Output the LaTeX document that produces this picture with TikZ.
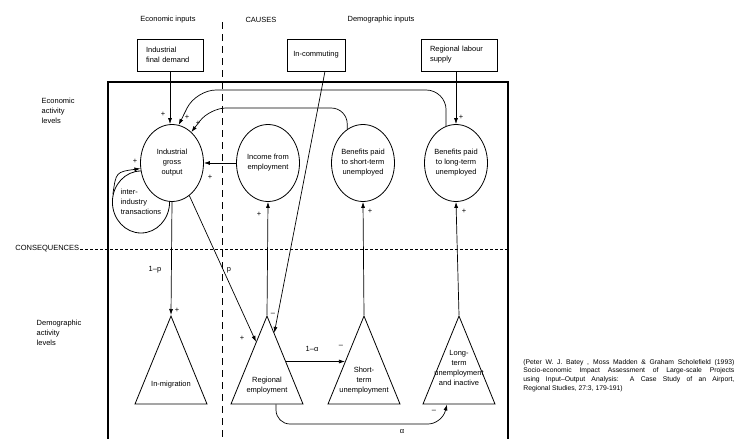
\documentclass[tikz,border=0pt]{standalone}
\usepackage{fontspec}
\setmainfont{Liberation Sans}
\usetikzlibrary{shapes.geometric,calc,arrows.meta}
\begin{document}
\begin{tikzpicture}[x=1pt,y=-1pt,>={Latex[length=6pt,width=4pt]},line width=0.7pt,
  every node/.style={font=\fontsize{7.5}{10}\selectfont},
  circ/.style={draw,ellipse,fill=white,line width=0.8pt,minimum width=63pt,minimum height=77pt,inner sep=0pt,align=center},
  tri/.style={draw,isosceles triangle,isosceles triangle stretches,shape border rotate=90,minimum width=72pt,minimum height=88pt,inner sep=0pt,line width=0.8pt,anchor=apex},
  inbox/.style={draw,line width=0.6pt,minimum height=32pt,align=left},
  sign/.style={inner sep=0pt}]
\useasboundingbox (0,0) rectangle (734,439);
% headings
\node (hecon) at (168,20) {Economic inputs};
\node (hcaus) at (261,20) {CAUSES};
\node (hdemo) at (381,20) {Demographic inputs};
\node[align=left,anchor=west] (leco) at (38,111) {Economic\\activity\\levels};
\node[align=left,anchor=west] (ldem) at (33,333) {Demographic\\activity\\levels};
\node[anchor=west,inner sep=1pt] (cons) at (14,249) {CONSEQUENCES};
\draw[line width=0.4pt,dash pattern=on 3pt off 2pt] (cons.east) -- (510,249);
\draw[dash pattern=on 7pt off 5pt] (222,22) -- (222,439);
\draw[line width=2.5pt] (108,439) -- (108,82) -- (508,82) -- (508,439);
% inputs
\node[inbox,text width=48pt,inner xsep=9pt] (ifd) at (170,55) {Industrial\\final demand};
\node[inbox,minimum width=58pt] (inc) at (316,55) {In-commuting};
\node[inbox,text width=58pt,inner xsep=9pt] (rls) at (459,55) {Regional labour\\supply};
% economic activity
\node[circ,minimum width=52pt,minimum height=62pt,align=left] (iit) at (141,202) {inter-\\industry\\transactions};
\node[circ] (igo) at (172,163) {Industrial\\gross\\output};
\node[circ] (ife) at (268,163) {Income from\\employment};
\node[circ] (bst) at (363,163) {Benefits paid\\to short-term\\unemployed};
\node[circ] (blt) at (456,163) {Benefits paid\\to long-term\\unemployed};
% demographic activity
\node[tri] (mig) at (171,315) {};
\node[tri] (rem) at (267,315) {};
\node[tri] (stu) at (364,315) {};
\node[tri] (lti) at (459,315) {};
\node (migt) at (171,385) {In-migration};
\node[align=center] (remt) at (267,386) {Regional\\employment};
\node[align=center] (stut) at (364,381) {Short-\\term\\unemployment};
\node[align=center] (ltit) at (459,368) {Long-\\term\\unemployment\\and inactive};
% links
\draw[->] (ifd.south) -- (ifd.south |- igo.north);
\draw[->,rounded corners=20pt] (blt.105) |- (196,90) -- (igo.80);
\draw[->,rounded corners=16pt] (bst.115) |- (210,108) -- (igo.58);
\draw[->] (ife.west) -- (igo.east);
\draw[->] (iit.165) .. controls (116,172) .. (igo.190);
\draw[->] ([xshift=9pt]inc.south) -- ($(rem.apex)!0.2!(rem.right corner)$);
\draw[->] (igo.-62) -- ($(rem.apex)!0.3!(rem.left corner)$);
\draw[->] (igo.south) -- (mig.apex);
\draw[->] (rem.apex) -- (ife.south);
\draw[->] ($(rem.apex)!0.52!(rem.right corner)$) -- ($(stu.apex)!0.52!(stu.left corner)$);
\draw[->] (stu.apex) -- (bst.south);
\draw[->] (lti.apex) -- (blt.south);
\draw[->,rounded corners=14pt] ([xshift=9pt]rem.lower side) |- (442,424) -- ([xshift=-12pt]lti.lower side);
\draw[->] (blt.north |- rls.south) -- (blt.north);
% signs
\node[sign] (s1) at (163,114) {+};
\node[sign] (s2) at (187,117) {+};
\node[sign] (s3) at (198,123) {+};
\node[sign] (s4) at (210,177) {+};
\node[sign] (s5) at (135,161) {+};
\node[sign] (s6) at (177,310) {+};
\node[sign] (s7) at (242,338) {+};
\node[sign] (s8) at (259,214) {+};
\node[sign] (s9) at (273,314) {–};
\node[sign] (s10) at (341,346) {–};
\node[sign] (s11) at (370,211) {+};
\node[sign] (s12) at (464,211) {+};
\node[sign] (s13) at (434,411) {–};
\node[sign] (s14) at (461,117) {+};
\node[sign] (lp1) at (155,270) {1–p};
\node[sign] (lp2) at (229,270) {p};
\node[sign] (la1) at (312,349) {1–α};
\node[sign] (la2) at (402,432) {α};
% source
\node[anchor=north west,text width=211pt,align=justify,inner sep=0pt,font=\fontsize{6.8}{8.7}\selectfont] (src) at (523,359)
  {(Peter W. J. Batey , Moss Madden \& Graham Scholefield (1993)\linebreak
  Socio-economic Impact Assessment of Large-scale Projects\linebreak
  using Input–Output Analysis: A Case Study of an Airport,\linebreak
  Regional Studies, 27:3, 179-191)};
\end{tikzpicture}
\end{document}
